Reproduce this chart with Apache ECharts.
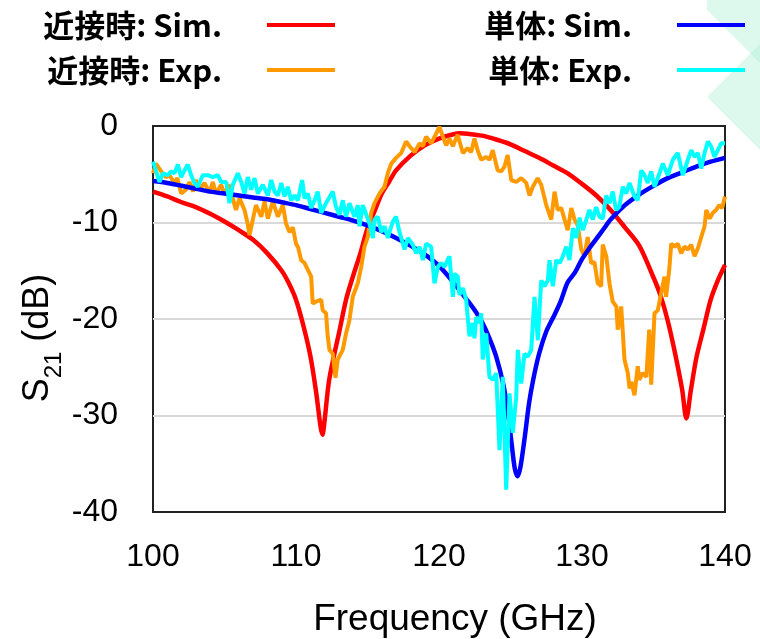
<!DOCTYPE html>
<html>
<head>
<meta charset="utf-8">
<script src="https://cdn.jsdelivr.net/npm/echarts@6/dist/echarts.min.js"></script>
<style>
  html, body { margin: 0; padding: 0; background: #fff; }
  #chart { width: 760px; height: 639px; }
</style>
</head>
<body>
<div id="chart"></div>
<script>
// 近接時 (coupled) simulation
const nearSimFreq = [100, 101, 102, 103, 104, 105, 106, 107, 108, 109, 109.5, 110, 110.5, 111, 111.4, 111.7, 111.85, 112, 112.3, 112.7, 113, 113.5, 114, 114.5, 115, 115.5, 116, 116.5, 117, 118, 119, 120, 121, 121.5, 122, 123, 124, 125, 126, 127, 128, 129, 130, 131, 132, 133, 134, 135, 135.5, 136, 136.5, 137, 137.3, 137.6, 138, 138.5, 139, 139.5, 140];
const nearSimDb = [-6.8, -7.3, -7.9, -8.4, -9.1, -9.9, -10.8, -11.8, -13.2, -15.0, -16.3, -18.0, -20.6, -23.8, -27.5, -31.0, -32.0, -30.5, -26.5, -23.5, -21.5, -18.0, -15.5, -13.2, -10.6, -8.8, -7.0, -5.8, -4.6, -3.1, -2.0, -1.3, -0.85, -0.75, -0.8, -1.0, -1.4, -1.9, -2.6, -3.3, -4.1, -4.9, -6.0, -7.2, -8.7, -10.5, -12.4, -15.7, -17.6, -20.2, -23.5, -27.3, -30.3, -27.5, -24.0, -21.0, -18.0, -16.0, -14.4];

// 近接時 (coupled) measurement
const nearExpFreq = [100.0, 100.2, 100.57, 100.9, 101.15, 101.5, 101.7, 101.97, 102.3, 102.55, 102.8, 103.0, 103.25, 103.6, 103.95, 104.18, 104.4, 104.77, 105.0, 105.35, 105.58, 105.8, 106.05, 106.4, 106.6, 106.75, 106.98, 107.2, 107.57, 107.8, 108.03, 108.38, 108.73, 109.08, 109.3, 109.55, 109.78, 110.0, 110.15, 110.36, 110.6, 110.83, 111.06, 111.17, 111.4, 111.76, 111.87, 112.1, 112.22, 112.34, 112.57, 112.76, 112.92, 113.27, 113.5, 113.74, 113.97, 114.32, 114.56, 114.79, 115.02, 115.26, 115.49, 115.84, 116.19, 116.42, 116.66, 117.0, 117.36, 117.7, 117.94, 118.3, 118.64, 118.87, 119.1, 119.45, 119.8, 120.03, 120.27, 120.5, 120.73, 120.97, 121.3, 121.67, 122.0, 122.25, 122.48, 122.7, 122.95, 123.3, 123.53, 123.76, 124.1, 124.35, 124.58, 124.8, 125.05, 125.4, 125.75, 126.1, 126.33, 126.56, 126.9, 127.15, 127.5, 127.85, 128.08, 128.3, 128.55, 128.78, 129.0, 129.25, 129.48, 129.7, 129.95, 130.17, 130.4, 130.64, 130.87, 131.1, 131.34, 131.45, 131.7, 131.92, 132.15, 132.4, 132.5, 132.74, 132.86, 132.97, 133.2, 133.33, 133.45, 133.55, 133.67, 133.9, 134.0, 134.25, 134.5, 134.7, 134.84, 135.07, 135.3, 135.54, 135.77, 135.88, 136.1, 136.24, 136.47, 136.7, 136.94, 137.17, 137.4, 137.64, 137.87, 138.1, 138.34, 138.57, 138.69, 138.93, 139.15, 139.38, 139.6, 139.8, 140.0];
const nearExpDb = [-4.9, -3.9, -4.7, -5.3, -5.1, -5.9, -5.4, -7.0, -6.6, -5.8, -6.8, -5.6, -6.6, -5.9, -6.9, -5.8, -7.0, -6.1, -7.0, -6.1, -7.5, -8.7, -7.5, -8.7, -10.0, -11.3, -9.7, -8.2, -9.4, -7.8, -9.6, -7.8, -9.4, -8.2, -10.1, -11.0, -10.5, -12.2, -12.6, -13.9, -14.2, -14.9, -15.6, -18.4, -18.2, -18.0, -19.1, -19.4, -21.8, -23.2, -23.6, -26.1, -24.2, -23.2, -21.5, -20.1, -17.7, -16.3, -14.6, -12.5, -11.5, -9.0, -8.0, -7.0, -6.3, -4.9, -3.9, -3.3, -2.8, -1.6, -2.1, -2.7, -1.8, -2.1, -1.1, -1.8, -0.8, -0.1, -1.1, -2.0, -1.3, -2.1, -0.9, -2.8, -2.3, -2.7, -1.3, -2.5, -3.5, -3.2, -3.5, -2.5, -4.6, -4.7, -4.2, -3.0, -5.6, -5.8, -5.4, -5.9, -7.2, -6.3, -5.4, -6.1, -8.2, -9.7, -6.8, -8.7, -8.5, -9.7, -10.8, -8.5, -9.7, -10.3, -12.8, -13.5, -11.5, -14.2, -14.1, -16.3, -16.6, -12.3, -13.5, -16.3, -18.2, -18.7, -21.1, -18.7, -21.5, -24.2, -25.6, -27.2, -26.5, -26.7, -27.9, -24.9, -26.3, -25.6, -26.0, -21.1, -26.8, -19.4, -19.1, -17.3, -15.6, -17.7, -14.9, -12.2, -12.5, -12.2, -13.2, -12.5, -12.8, -12.3, -13.5, -12.7, -11.5, -10.4, -8.7, -9.6, -9.0, -8.7, -8.2, -8.5, -7.3];

// 単体 (single) simulation
const aloneSimFreq = [100, 101, 102, 103, 104, 105, 106, 107, 108, 109, 110, 111, 112, 113, 114, 115, 116, 117, 118, 119, 120, 121, 122, 122.5, 123, 123.5, 124, 124.5, 124.8, 125.1, 125.3, 125.5, 125.7, 126, 126.3, 126.6, 127, 127.5, 128, 128.5, 129, 129.5, 130, 130.5, 131, 131.5, 132, 133, 134, 135, 136, 137, 138, 139, 140];
const aloneSimDb = [-5.7, -5.9, -6.2, -6.5, -6.8, -7.0, -7.2, -7.4, -7.6, -7.9, -8.2, -8.6, -9.0, -9.4, -9.8, -10.3, -10.9, -11.6, -12.4, -13.3, -14.5, -16.2, -18.1, -19.1, -20.3, -21.9, -23.9, -26.8, -29.5, -33.2, -35.5, -36.3, -35.3, -32.2, -28.7, -26.2, -23.6, -21.3, -19.8, -18.2, -16.2, -15.2, -13.8, -12.7, -11.7, -10.7, -9.7, -8.2, -7.1, -6.2, -5.4, -4.8, -4.2, -3.7, -3.3];

// 単体 (single) measurement
const aloneExpFreq = [100.0, 100.2, 100.45, 100.69, 101.03, 101.27, 101.5, 101.74, 101.97, 102.2, 102.43, 102.67, 102.9, 103.13, 103.48, 103.83, 104.18, 104.53, 104.77, 105.12, 105.35, 105.58, 105.93, 106.17, 106.4, 106.63, 106.87, 107.1, 107.33, 107.68, 108.03, 108.27, 108.5, 108.73, 108.97, 109.2, 109.43, 109.66, 109.9, 110.13, 110.43, 110.6, 110.83, 111.06, 111.3, 111.52, 111.76, 112.1, 112.57, 112.8, 113.04, 113.27, 113.5, 113.74, 114.09, 114.32, 114.44, 114.67, 115.14, 115.37, 115.49, 115.72, 115.96, 116.19, 116.42, 116.77, 117.0, 117.24, 117.59, 117.82, 118.17, 118.4, 118.64, 118.87, 119.1, 119.45, 119.68, 119.92, 120.15, 120.38, 120.6, 120.73, 120.97, 121.08, 121.31, 121.43, 121.67, 121.9, 122.13, 122.36, 122.48, 122.6, 122.83, 122.95, 123.06, 123.3, 123.53, 123.76, 124.0, 124.23, 124.46, 124.7, 124.93, 125.16, 125.4, 125.51, 125.75, 125.98, 126.21, 126.45, 126.68, 126.91, 127.15, 127.38, 127.61, 127.73, 127.96, 128.2, 128.43, 128.66, 128.9, 129.12, 129.36, 129.6, 129.83, 130.06, 130.3, 130.52, 130.75, 130.99, 131.22, 131.45, 131.69, 131.92, 132.15, 132.38, 132.6, 132.85, 133.1, 133.32, 133.67, 133.9, 134.14, 134.37, 134.6, 134.84, 135.07, 135.42, 135.65, 136.0, 136.35, 136.7, 137.05, 137.4, 137.64, 137.87, 138.1, 138.34, 138.57, 138.8, 139.03, 139.26, 139.5, 139.73, 140.0];
const aloneExpDb = [-3.7, -4.6, -5.8, -4.9, -5.1, -4.7, -4.9, -4.0, -5.3, -4.6, -4.0, -5.1, -5.9, -6.3, -5.1, -5.1, -5.3, -5.1, -5.8, -5.8, -8.0, -6.1, -4.9, -5.8, -7.0, -5.3, -6.6, -5.4, -7.0, -6.1, -7.2, -5.6, -6.8, -7.2, -5.9, -7.3, -6.3, -7.7, -7.2, -7.7, -5.6, -7.5, -7.0, -8.5, -7.7, -6.8, -9.0, -8.0, -6.8, -8.4, -9.2, -7.7, -9.4, -8.0, -9.4, -8.2, -10.4, -8.2, -10.1, -11.6, -9.7, -9.4, -11.0, -10.4, -11.6, -9.9, -9.4, -11.0, -12.8, -11.6, -12.3, -13.2, -12.5, -13.9, -12.2, -12.5, -16.3, -14.6, -14.2, -14.6, -13.9, -13.5, -17.7, -15.3, -15.6, -17.5, -16.8, -18.0, -21.8, -20.4, -22.0, -19.8, -20.4, -19.4, -24.2, -21.5, -26.0, -26.3, -25.6, -33.6, -26.0, -37.7, -27.7, -31.8, -28.1, -23.2, -26.7, -23.6, -23.9, -23.2, -17.7, -22.2, -16.0, -16.6, -16.0, -13.9, -16.6, -13.9, -14.2, -13.5, -12.5, -13.9, -10.6, -11.6, -9.5, -10.8, -9.7, -8.7, -9.7, -8.4, -9.4, -9.6, -7.2, -8.0, -6.8, -8.7, -8.4, -6.3, -7.0, -5.9, -7.3, -7.7, -4.6, -5.1, -5.9, -4.7, -6.3, -4.9, -3.9, -5.1, -3.5, -2.8, -5.1, -3.5, -2.5, -3.2, -2.8, -4.4, -2.8, -1.6, -2.1, -3.2, -2.5, -1.8, -1.8];

const xTicks = [100, 110, 120, 130, 140];
const yTicks = [0, -10, -20, -30, -40];

const zip = (xs, ys) => xs.map((x, i) => [x, ys[i]]);

const chart = echarts.init(document.getElementById('chart'));

const legendText = {
    color: '#000',
    fontFamily: 'Noto Sans CJK JP',
    fontWeight: 'bold',
    fontSize: 31,
    lineHeight: 34,
    padding: [0, 40, 0, 0]
};

const legendBase = {
    orient: 'vertical',
    align: 'right',
    top: 8,
    padding: 0,
    itemGap: 11,
    itemWidth: 68,
    itemHeight: 4,
    icon: 'rect',
    textStyle: legendText
};

const labelFont = {
    color: '#000',
    fontFamily: 'Liberation Sans',
    fontSize: 32
};

const option = {
    animation: false,
    backgroundColor: '#fff',
    graphic: [{
        type: 'polygon',
        z: -10,
        silent: true,
        shape: { points: [[707, 0], [760, 0], [760, 63], [707, 10]] },
        style: { fill: 'rgba(180,240,215,0.45)' }
    }, {
        type: 'polygon',
        z: -10,
        silent: true,
        shape: { points: [[707, 97], [760, 44], [760, 150]] },
        style: { fill: 'rgba(180,240,215,0.45)' }
    }],
    legend: [
        Object.assign({ data: ['近接時: Sim.', '近接時: Exp.'], right: 425 }, legendBase),
        Object.assign({ data: ['単体: Sim.', '単体: Exp.'], right: 15 }, legendBase)
    ],
    grid: {
        left: 153,
        right: 35,
        top: 126,
        bottom: 127,
        containLabel: false,
        outerBoundsMode: 'none',
        show: true,
        borderColor: '#222',
        borderWidth: 2,
        backgroundColor: 'transparent'
    },
    xAxis: {
        type: 'value',
        min: xTicks[0],
        max: xTicks[xTicks.length - 1],
        interval: 10,
        name: 'Frequency (GHz)',
        nameLocation: 'middle',
        nameGap: 89,
        nameMoveOverlap: false,
        nameTextStyle: {
            color: '#000',
            fontFamily: 'Liberation Sans',
            fontSize: 37,
            padding: [0, 0, 0, 32]
        },
        axisLine: { show: false },
        axisTick: { show: false },
        splitLine: { show: false },
        axisLabel: Object.assign({
            margin: 29,
            showMinLabel: true,
            showMaxLabel: true,
            hideOverlap: false
        }, labelFont)
    },
    yAxis: {
        type: 'value',
        min: yTicks[yTicks.length - 1],
        max: yTicks[0],
        interval: 10,
        name: '{a|S}{s|21}{a| (dB)}',
        nameLocation: 'middle',
        nameRotate: 90,
        nameGap: 87,
        nameMoveOverlap: false,
        nameTextStyle: {
            color: '#000',
            fontFamily: 'Liberation Sans',
            padding: [0, 38, 0, 0],
            rich: {
                a: { fontFamily: 'Liberation Sans', fontSize: 36, color: '#000', verticalAlign: 'bottom', padding: [0, 0, 10, 0] },
                s: { fontFamily: 'Liberation Sans', fontSize: 24, color: '#000', verticalAlign: 'bottom' }
            }
        },
        axisLine: { show: false },
        axisTick: { show: false },
        splitLine: {
            show: true,
            showMinLine: false,
            showMaxLine: false,
            lineStyle: { color: '#d9d9d9', width: 2 }
        },
        axisLabel: Object.assign({
            margin: 35,
            showMinLabel: true,
            showMaxLabel: true,
            hideOverlap: false
        }, labelFont)
    },
    series: [{
        name: '近接時: Sim.',
        type: 'line',
        data: zip(nearSimFreq, nearSimDb),
        symbol: 'none',
        smooth: 0.3,
        lineStyle: { color: '#ff0000', width: 4.5 },
        itemStyle: { color: '#ff0000' }
    }, {
        name: '近接時: Exp.',
        type: 'line',
        data: zip(nearExpFreq, nearExpDb),
        symbol: 'none',
        lineStyle: { color: '#ff9900', width: 4 },
        itemStyle: { color: '#ff9900' }
    }, {
        name: '単体: Sim.',
        type: 'line',
        data: zip(aloneSimFreq, aloneSimDb),
        symbol: 'none',
        smooth: 0.3,
        lineStyle: { color: '#0000ff', width: 4.5 },
        itemStyle: { color: '#0000ff' }
    }, {
        name: '単体: Exp.',
        type: 'line',
        data: zip(aloneExpFreq, aloneExpDb),
        symbol: 'none',
        lineStyle: { color: '#00ffff', width: 4 },
        itemStyle: { color: '#00ffff' }
    }]
};

chart.setOption(option);
</script>
</body>
</html>
